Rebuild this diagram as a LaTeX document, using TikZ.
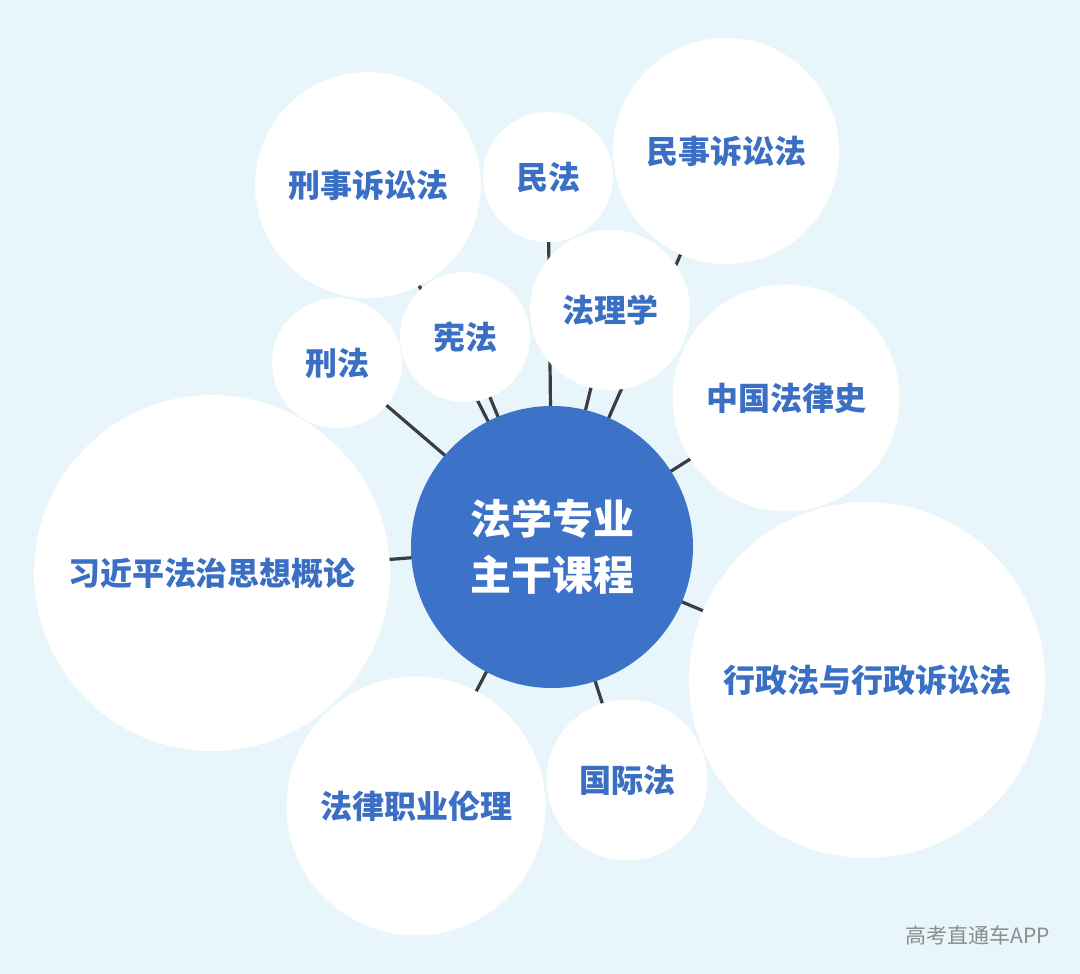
\documentclass[tikz,border=0pt]{standalone}
\usepackage{fontspec}
\newfontfamily\cjk{Noto Sans CJK SC}
\definecolor{bgblue}{HTML}{E8F5FB}
\definecolor{mainblue}{HTML}{3C72C7}
\definecolor{txtblue}{HTML}{3A6FC4}
\definecolor{linegray}{HTML}{3A3D42}
\definecolor{wmgray}{HTML}{8A8C8E}
\pgfdeclarelayer{bg}
\pgfdeclarelayer{lines}
\pgfsetlayers{bg,lines,main}
\begin{document}
\begin{tikzpicture}[x=1pt,y=-1pt,
  bubble/.style={circle, fill=white, inner sep=0pt, text=txtblue,
    font=\cjk\bfseries\fontsize{32}{38}\selectfont},
  hub/.style={circle, fill=mainblue, inner sep=0pt, text=white, align=center,
    font=\cjk\bfseries\fontsize{41}{56}\selectfont},
  link/.style={draw=linegray, line width=3.2pt}]
\begin{pgfonlayer}{bg}
\fill[bgblue] (0,0) rectangle (1080,974);
\end{pgfonlayer}
\useasboundingbox (0,0) rectangle (1080,974);

\node[bubble, minimum size=226pt] (xsss) at (368,185) {刑事诉讼法};
\node[bubble, minimum size=130pt] (mf) at (548,177) {民法};
\node[bubble, minimum size=226pt] (msss) at (726,151) {民事诉讼法};
\node[bubble, minimum size=130pt] (xf) at (337,363) {刑法};
\node[bubble, minimum size=130pt] (xianf) at (465,337) {宪法};
\node[bubble, minimum size=160pt] (flx) at (610,310) {法理学};
\node[bubble, minimum size=227pt] (zgfls) at (786,398) {中国法律史};
\node[bubble, minimum size=356pt] (xjp) at (212,573) {习近平法治思想概论};
\node[bubble, minimum size=356pt] (xzf) at (867,680) {行政法与行政诉讼法};
\node[bubble, minimum size=259pt] (flzy) at (416,806) {法律职业伦理};
\node[bubble, minimum size=161pt] (gjf) at (627,780) {国际法};

\node[hub, minimum size=282pt] (c) at (552,547) {法学专业\\主干课程};

\begin{pgfonlayer}{lines}
\foreach \n in {xsss,mf,msss,xf,xianf,flx,zgfls,xjp,xzf,flzy,gjf}
  \draw[link] (c.center) -- (\n.center);
\end{pgfonlayer}

\node[text=wmgray, font=\cjk\fontsize{21}{24}\selectfont, inner sep=0pt] (wm) at (978,935) {高考直通车APP};
\end{tikzpicture}
\end{document}
